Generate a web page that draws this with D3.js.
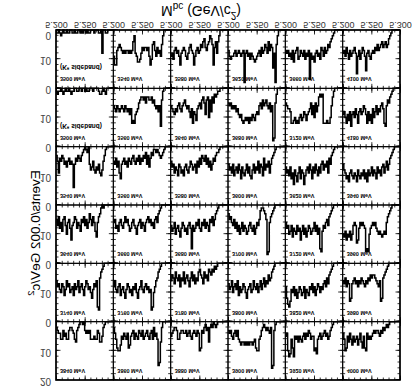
<!DOCTYPE html>
<html>
<head>
<meta charset="utf-8">
<script src="https://cdn.jsdelivr.net/npm/d3@7"></script>
<style>
  body { margin: 0; background: #fff; }
  svg { display: block; font-family: "Liberation Sans", Arial, sans-serif; }
</style>
</head>
<body>
<div id="chart"></div>
<script>
// Mbc histograms, 50 bins of 0.002 GeV from 5.20 to 5.30, one array per pad.
// rows listed top to bottom as in the original (unmirrored) figure
const r1 = [
  [2,3,4,4,6,6,3,5,4,6,6,3,2,2,3,4,6,7,3,2,1,0,0,1,0,3,4,3,4,3,6,6,6,5,6,6,3,4,7,7,5,2,1,0,0,0,0,0,0,0],
  [2,4,6,9,10,10,8,5,6,4,5,6,4,9,8,5,4,3,6,4,5,6,3,4,5,3,6,5,4,3,5,6,4,3,6,2,5,4,6,15,14,7,2,0,0,0,0,0,0,0],
  [5,4,3,2,2,3,6,6,4,3,3,4,4,3,5,4,3,5,6,4,3,4,5,3,4,10,9,3,4,2,1,3,2,7,2,1,2,0,1,2,1,0,0,0,0,0,0,0,0,0],
  [3,4,3,5,6,4,3,5,3,6,7,8,7,7,8,7,8,7,8,7,7,8,7,6,9,10,10,6,5,3,2,1,2,3,2,3,4,2,16,15,3,1,0,0,0,0,0,0,0,0],
  [5,4,10,12,11,6,9,12,5,6,5,7,5,6,7,5,4,6,4,5,3,4,6,5,5,10,9,11,6,5,4,6,5,4,3,5,4,6,5,3,2,1,0,0,0,0,0,0,0,0],
  [4,6,10,9,5,7,4,6,8,5,7,6,5,8,6,4,7,9,5,9,10,4,6,5,6,5,4,3,4,3,3,4,5,3,4,2,3,2,1,2,1,0,0,0,0,0,0,0,0,0]
];
const r2 = [
  [6,8,7,9,10,7,8,11,9,6,8,7,10,9,8,11,7,9,8,6,10,8,7,9,11,8,6,7,9,8,10,12,9,7,8,6,15,16,5,3,2,1,0,0,0,0,0,0,0,0],
  [8,6,9,10,8,7,11,9,8,10,12,9,7,8,10,9,11,8,9,7,10,12,9,8,6,9,10,8,7,9,8,10,9,16,15,10,8,6,5,3,2,1,0,0,0,0,0,0,0,0],
  [6,4,5,7,3,5,6,4,8,5,6,3,7,5,4,6,8,5,3,6,4,7,5,6,3,2,4,5,7,3,5,4,6,2,3,4,2,3,1,2,1,0,0,0,0,0,0,0,0,0],
  [7,9,8,6,10,8,7,9,6,11,8,10,9,7,8,10,12,9,8,7,10,9,6,8,9,7,10,8,6,9,7,5,8,6,7,4,6,5,3,2,1,0,0,0,0,0,0,0,0,0],
  [8,12,14,15,13,9,10,8,11,9,12,10,8,9,11,10,8,12,9,10,11,8,9,7,10,8,11,9,7,8,10,8,9,7,6,8,5,7,4,3,2,1,0,0,0,0,0,0,0,0],
  [6,7,5,8,6,7,13,12,7,6,5,7,6,8,6,7,5,6,7,8,6,7,5,6,4,5,4,4,5,6,7,8,6,13,12,5,4,3,2,1,0,0,0,0,0,0,0,0,0,0]
];
const r3 = [
  [5,7,4,8,6,9,5,4,7,10,6,5,8,12,7,6,4,5,8,6,7,9,5,6,4,7,5,8,6,3,5,7,4,6,9,11,6,4,3,1,0,1,0,0,0,0,0,0,0,0],
  [6,5,8,7,9,6,5,7,8,6,4,6,5,7,9,8,6,5,7,8,10,7,6,5,8,6,7,9,6,5,4,6,5,7,6,8,5,4,6,3,2,1,0,0,0,0,0,0,0,0],
  [7,9,8,6,10,8,7,9,11,8,6,7,9,8,10,7,6,8,15,7,9,8,6,7,5,8,9,6,7,5,8,6,7,9,5,6,4,7,5,3,2,1,0,0,0,0,0,0,0,0],
  [3,5,4,6,7,5,8,6,9,7,10,8,6,9,7,8,10,9,7,6,8,9,7,10,8,6,7,5,2,1,1,2,3,5,17,16,6,4,3,2,1,0,0,0,0,0,0,0,0,0],
  [6,8,7,10,9,7,11,8,9,10,7,9,8,12,9,7,10,8,11,9,7,8,10,9,8,6,9,7,10,8,15,16,9,7,8,6,5,7,4,3,2,1,0,0,0,0,0,0,0,0],
  [10,11,9,12,10,11,9,12,10,7,6,7,13,12,8,6,7,6,7,8,16,15,16,10,8,7,6,7,6,8,9,10,9,10,11,10,9,10,6,4,3,2,1,0,0,0,0,0,0,0]
];
const r4 = [
  [3,5,9,4,5,3,4,6,5,7,5,4,6,5,6,14,6,4,5,3,4,5,3,2,1,0,1,2,0,6,8,7,5,8,9,7,8,6,9,10,8,5,3,1,0,0,0,0,0,0],
  [5,6,4,7,5,9,11,6,5,4,6,5,7,4,5,6,4,3,5,6,4,5,3,6,4,5,3,4,2,6,3,7,4,2,3,1,1,2,1,2,3,4,3,2,1,0,0,0,0,0],
  [5,7,6,9,7,8,10,6,7,9,8,10,7,6,8,9,7,5,6,8,7,6,9,5,7,4,6,3,4,5,3,6,4,7,5,8,6,4,5,3,2,2,1,0,0,0,0,0,0,0],
  [6,8,7,9,6,10,8,7,9,6,8,11,7,9,10,8,6,9,7,10,11,8,6,9,7,8,5,9,6,7,10,4,8,6,7,5,9,6,4,3,2,1,0,0,0,0,0,0,0,0],
  [7,9,8,10,7,11,9,13,8,10,12,9,7,11,8,9,13,10,8,7,9,6,8,11,7,9,6,8,10,7,9,6,5,8,6,7,5,9,4,6,3,2,1,0,0,0,0,0,0,0],
  [6,8,9,11,10,12,9,8,10,11,9,10,12,8,10,11,9,10,8,11,9,12,8,10,9,7,10,8,9,11,7,9,8,10,7,6,9,7,5,8,6,4,3,2,1,0,0,0,0,0]
];
const r5 = [
  [1,2,1,1,0,1,2,1,0,1,1,0,1,2,1,1,0,0,1,1,0,0,1,0,0,1,0,1,1,0,0,0,1,0,0,0,0,1,2,2,1,0,1,2,0,0,0,0,0,0],
  [6,7,8,6,7,8,7,6,7,8,6,7,8,7,9,7,12,11,12,9,8,7,5,4,3,3,4,3,5,3,3,4,4,3,5,4,6,7,6,8,6,13,4,1,0,0,0,0,0,0],
  [6,7,8,9,7,8,6,5,7,8,6,5,4,6,7,6,8,10,7,12,8,9,11,7,6,5,7,4,3,5,9,4,3,10,4,8,3,5,2,3,2,1,1,0,0,0,0,0,0,0],
  [5,6,5,7,6,7,6,8,7,9,10,9,11,12,11,10,11,10,12,10,11,9,10,11,9,8,9,6,5,7,4,6,5,4,6,7,5,8,6,18,17,5,2,0,0,0,0,0,0,0],
  [5,6,7,7,8,12,12,11,10,12,11,12,10,9,11,10,8,9,11,9,8,7,5,9,6,10,5,8,6,3,2,3,2,12,12,12,11,12,12,10,6,3,1,0,0,0,0,0,0,0],
  [9,8,10,12,9,11,8,13,9,8,10,7,9,12,8,7,9,8,6,7,9,12,8,11,9,12,7,10,8,6,9,7,8,6,5,7,12,13,6,4,5,3,2,1,0,0,0,0,0,0]
];
const r6 = [
  [1,1,0,1,2,1,0,1,1,0,1,1,0,0,1,1,0,1,1,0,0,1,0,1,0,0,1,0,1,1,0,0,0,1,0,0,0,1,1,0,8,0,0,1,1,0,0,0,0,0],
  [9,12,12,7,6,5,6,7,8,7,8,7,7,8,7,8,7,4,2,8,9,11,11,10,8,6,7,6,6,7,6,9,12,10,5,4,7,9,6,8,7,9,5,2,0,0,0,0,0,0],
  [9,8,10,7,6,8,7,9,12,8,7,6,7,9,10,8,6,5,7,8,12,9,7,6,8,7,5,6,4,3,6,7,5,4,2,3,5,12,6,4,8,4,2,0,0,0,0,0,0,0],
  [7,9,10,9,9,8,7,9,8,7,8,9,8,7,18,8,7,9,8,10,8,9,10,11,10,9,8,7,9,6,8,7,5,6,8,4,7,5,6,13,8,18,5,2,0,0,0,0,0,0],
  [7,8,7,9,8,10,7,11,8,7,6,10,9,7,8,9,7,10,8,9,7,17,8,10,9,11,8,7,9,8,10,6,7,9,6,8,7,5,6,4,3,2,1,0,0,0,0,0,0,0],
  [8,7,9,6,8,10,7,9,8,7,6,8,15,9,7,10,8,6,7,9,14,8,7,9,10,8,7,8,6,7,5,7,6,5,4,6,5,4,6,5,3,2,1,0,0,0,0,0,0,0]
];
const rows = [r1, r2, r3, r4, r5, r6];

const padLabels = [
  ['3840 MeV', '3860 MeV', '3880 MeV', '3900 MeV', '3920 MeV', '4000 MeV'],
  ['3740 MeV', '3760 MeV', '3780 MeV', '3800 MeV', '3820 MeV', '3980 MeV'],
  ['3640 MeV', '3660 MeV', '3680 MeV', '3700 MeV', '3720 MeV', '3960 MeV'],
  ['3540 MeV', '3560 MeV', '3580 MeV', '3600 MeV', '3620 MeV', '3940 MeV'],
  ['3500 MeV', '3560 MeV', '3640 MeV', '3680 MeV', '3720 MeV', '4180 MeV'],
  ['3500 MeV', '3540 MeV', '3580 MeV', '3620 MeV', '3660 MeV', '4100 MeV']
];
const sidebandText = '(K* sideband)';
const sidebandPads = [[4, 0], [5, 0]];

const xMajor = [5.20, 5.25, 5.30];
const xMinor = d3.range(5.20, 5.3001, 0.01);
const yMajor = [0, 10, 20];
const yMinor = d3.range(0, 20.01, 2);
const binEdges = d3.range(0, 51).map(i => 5.20 + i * 0.002);

const W = 412, H = 387;
const margin = {top: 7, right: 12, bottom: 30, left: 56};
const gridW = W - margin.left - margin.right;
const gridH = H - margin.top - margin.bottom;
const cellW = gridW / 6, cellH = gridH / 6;

const svg = d3.select('#chart').append('svg')
  .attr('width', W)
  .attr('height', H);

// the reference picture is the figure mirrored top to bottom
const root = svg.append('g')
  .attr('transform', 'translate(0,' + H + ') scale(1,-1)');

const x = d3.scaleLinear().domain([5.20, 5.30]).range([0, cellW]);
const y = d3.scaleLinear().domain([0, 20]).range([cellH, 0]);

const hist = d3.line()
  .x(d => x(d[0]))
  .y(d => y(d[1]))
  .curve(d3.curveStepAfter);

function ticks(g, axis, values, size) {
  g.call(axis.tickValues(values).tickSize(size).tickFormat(''));
  g.select('.domain').remove();
  g.selectAll('.tick line').attr('stroke', '#000').attr('stroke-width', 0.8);
}

rows.forEach((row, r) => {
  row.forEach((counts, c) => {
    const pad = root.append('g')
      .attr('transform', 'translate(' + (margin.left + c * cellW) + ',' + (margin.top + r * cellH) + ')');

    // inward ticks on all four sides
    [[xMinor, 2.5], [xMajor, 4.5]].forEach(([vals, len]) => {
      pad.append('g').attr('transform', 'translate(0,' + cellH + ')')
        .call(ticks, d3.axisBottom(x), vals, -len);
      pad.append('g').call(ticks, d3.axisTop(x), vals, -len);
    });
    [[yMinor, 2.5], [yMajor, 4.5]].forEach(([vals, len]) => {
      pad.append('g').call(ticks, d3.axisLeft(y), vals, -len);
      pad.append('g').attr('transform', 'translate(' + cellW + ',0)')
        .call(ticks, d3.axisRight(y), vals, -len);
    });

    const pts = counts.map((v, i) => [binEdges[i], v]);
    pts.push([binEdges[50], counts[49]]);
    pad.append('path')
      .attr('d', hist(pts))
      .attr('fill', 'none')
      .attr('stroke', '#000')
      .attr('stroke-width', 1.5);

    pad.append('rect')
      .attr('width', cellW).attr('height', cellH)
      .attr('fill', 'none').attr('stroke', '#000').attr('stroke-width', 1);

    pad.append('text')
      .attr('x', 4).attr('y', 11)
      .attr('font-size', 5.5).attr('font-weight', 'bold').attr('fill', '#000')
      .text(padLabels[r][c]);
  });
});

sidebandPads.forEach(([r, c]) => {
  root.append('text')
    .attr('x', margin.left + c * cellW + 4)
    .attr('y', margin.top + r * cellH + 23)
    .attr('font-size', 6.5).attr('font-weight', 'bold').attr('fill', '#000')
    .text(sidebandText);
});

root.append('rect')
  .attr('x', margin.left).attr('y', margin.top)
  .attr('width', gridW).attr('height', gridH)
  .attr('fill', 'none').attr('stroke', '#000').attr('stroke-width', 1.5);

// tick labels along the bottom and left edges of the grid
for (let c = 0; c < 6; c++) {
  const vals = c === 5 ? xMajor : xMajor.slice(0, 2);
  const ax = root.append('g')
    .attr('transform', 'translate(' + (margin.left + c * cellW) + ',' + (margin.top + gridH) + ')')
    .call(d3.axisBottom(x).tickValues(vals).tickSize(0).tickPadding(1.5).tickFormat(d3.format('.3f')));
  ax.select('.domain').remove();
  ax.selectAll('text').attr('font-size', 9).attr('fill', '#333')
    .attr('font-family', '"Liberation Sans", Arial, sans-serif');
}
for (let r = 0; r < 6; r++) {
  const vals = r === 0 ? yMajor : yMajor.slice(0, 2);
  const ay = root.append('g')
    .attr('transform', 'translate(' + margin.left + ',' + (margin.top + r * cellH) + ')')
    .call(d3.axisLeft(y).tickValues(vals).tickSize(0).tickPadding(5));
  ay.select('.domain').remove();
  ay.selectAll('text').attr('font-size', 10).attr('fill', '#444')
    .attr('y', d => (d === 0 && r === 5) ? -5.8 : -1.5)
    .attr('font-family', '"Liberation Sans", Arial, sans-serif');
}

// axis titles
const xt = root.append('text')
  .attr('x', 201).attr('y', 381.5)
  .attr('text-anchor', 'middle')
  .attr('font-size', 14);
xt.append('tspan').text('M');
xt.append('tspan').attr('dy', 3).attr('font-size', 10).text('bc');
xt.append('tspan').attr('dy', -3).text(' (GeV/c');
xt.append('tspan').attr('dy', -6).attr('font-size', 10).text('2');
xt.append('tspan').attr('dy', 6).text(')');

const yt = root.append('text')
  .attr('transform', 'translate(40,154) rotate(-90)')
  .attr('text-anchor', 'middle')
  .attr('font-size', 13.5);
yt.append('tspan').text('Events/0.002 GeV/c');
yt.append('tspan').attr('dy', -6).attr('font-size', 9.5).text('2');
</script>
</body>
</html>
